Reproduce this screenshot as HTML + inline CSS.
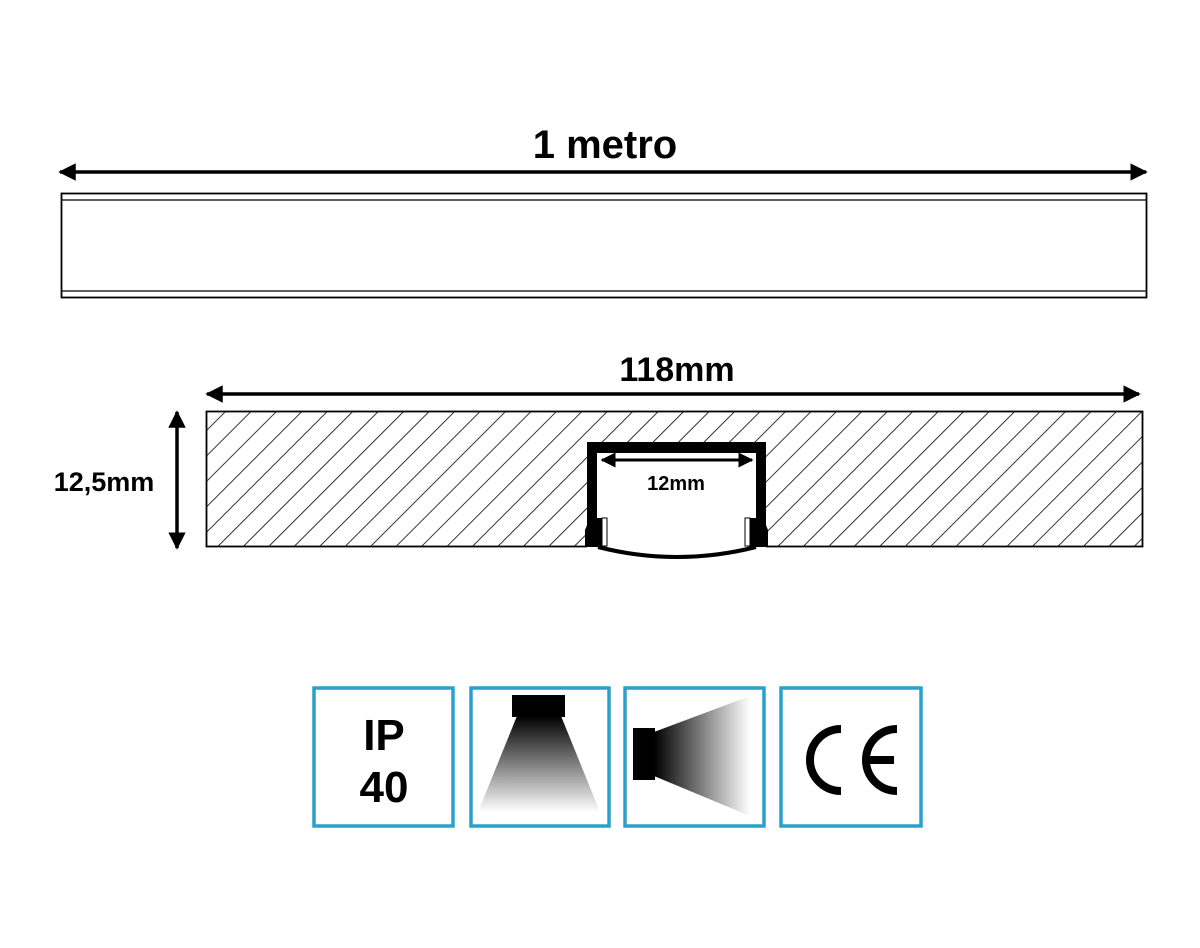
<!DOCTYPE html>
<html><head><meta charset="utf-8"><style>
html,body{margin:0;padding:0;background:#fff}
svg{display:block}
text{font-family:"Liberation Sans",sans-serif;font-weight:bold;fill:#000}
</style></head><body>
<svg width="1200" height="948" viewBox="0 0 1200 948" xmlns="http://www.w3.org/2000/svg">
<defs>
<marker id="ah" viewBox="0 0 10 10" refX="9" refY="5" markerWidth="5" markerHeight="5" orient="auto-start-reverse"><path d="M0,0L10,5L0,10z" fill="#000"/></marker>
<pattern id="hatch" patternUnits="userSpaceOnUse" width="18" height="18" patternTransform="rotate(45)">
<line x1="0" y1="0" x2="0" y2="18" stroke="#000" stroke-width="1.6"/></pattern>
<linearGradient id="g1" x1="0" y1="0" x2="0" y2="1"><stop offset="0" stop-color="#000"/><stop offset="1" stop-color="#000" stop-opacity="0"/></linearGradient>
<linearGradient id="g2" x1="0" y1="0" x2="1" y2="0"><stop offset="0" stop-color="#000"/><stop offset="1" stop-color="#000" stop-opacity="0"/></linearGradient>
</defs>
<text x="605" y="158" font-size="40" text-anchor="middle">1 metro</text>
<line x1="60" y1="172" x2="1146" y2="172" stroke="#000" stroke-width="3.5" marker-start="url(#ah)" marker-end="url(#ah)"/>
<rect x="61.5" y="193.5" width="1085" height="104" fill="none" stroke="#000" stroke-width="1.8"/>
<line x1="62" y1="200" x2="1146" y2="200" stroke="#000" stroke-width="1.2"/>
<line x1="62" y1="291" x2="1146" y2="291" stroke="#000" stroke-width="1.2"/>

<text x="677" y="381" font-size="34" text-anchor="middle">118mm</text>
<line x1="207" y1="394" x2="1139" y2="394" stroke="#000" stroke-width="3.5" marker-start="url(#ah)" marker-end="url(#ah)"/>
<rect x="206.5" y="411.5" width="936" height="135" fill="url(#hatch)" stroke="#000" stroke-width="1.8"/>
<line x1="177" y1="412" x2="177" y2="548" stroke="#000" stroke-width="3.5" marker-start="url(#ah)" marker-end="url(#ah)"/>
<text x="104" y="491" font-size="27" text-anchor="middle">12,5mm</text>

<rect x="587" y="442" width="179" height="106" fill="#fff"/>
<path d="M587,547 L587,442 L766,442 L766,547 L756,547 L756,453 L597,453 L597,547 Z" fill="#000"/>
<path d="M585,547 L585,530 L590,518 L603,518 L603,547 Z" fill="#000"/>
<path d="M768,547 L768,530 L763,518 L750,518 L750,547 Z" fill="#000"/>
<rect x="602" y="518" width="5" height="28" fill="#fff" stroke="#000" stroke-width="1"/>
<rect x="745" y="518" width="5" height="28" fill="#fff" stroke="#000" stroke-width="1"/>
<path d="M598,547 Q677,567 756,547" fill="none" stroke="#000" stroke-width="4"/>
<line x1="602" y1="460" x2="752" y2="460" stroke="#000" stroke-width="3" marker-start="url(#ah)" marker-end="url(#ah)"/>
<text x="676" y="490" font-size="20" text-anchor="middle">12mm</text>

<g fill="none" stroke="#2aa1cc" stroke-width="3.5">
<rect x="314" y="688" width="139" height="138"/>
<rect x="471" y="688" width="138" height="138"/>
<rect x="625" y="688" width="139" height="138"/>
<rect x="781" y="688" width="140" height="138"/>
</g>
<text x="384" y="750" font-size="44" text-anchor="middle">IP</text>
<text x="384" y="802" font-size="44" text-anchor="middle">40</text>
<rect x="512" y="695" width="53" height="22" fill="#000"/>
<path d="M517,716 L561,716 L600,812 L478,812 Z" fill="url(#g1)"/>
<rect x="633" y="728" width="22" height="52" fill="#000"/>
<path d="M654,732 L750,696 L750,816 L654,776 Z" fill="url(#g2)"/>
<g fill="none" stroke="#000" stroke-width="8">
<path d="M841,729 A31,31 0 0 0 841,791"/>
<path d="M897,729 A31,31 0 0 0 897,791"/>
<line x1="866" y1="760" x2="894" y2="760"/>
</g>
</svg>
</body></html>
